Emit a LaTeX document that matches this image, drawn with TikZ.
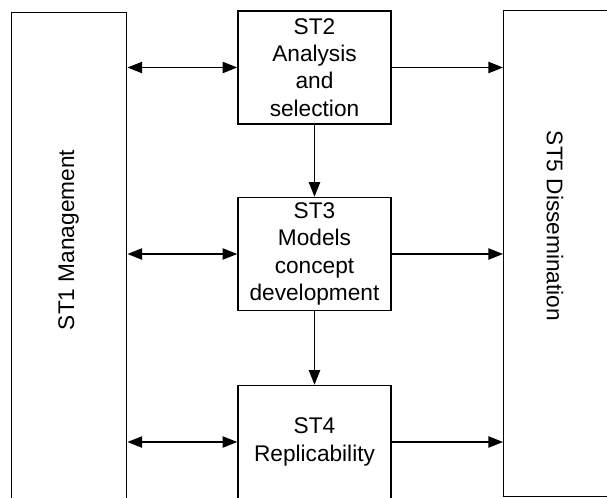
\documentclass[tikz,border=0pt]{standalone}
\usepackage{fontspec}
\setmainfont{Liberation Sans}
\usetikzlibrary{arrows.meta,calc,positioning}

\begin{document}
\begin{tikzpicture}[x=0.75pt,y=-0.75pt,
    task/.style={draw, line width=1.1pt, minimum width=114.75pt, minimum height=84.75pt,
                 inner sep=0pt, align=center, font=\fontsize{17}{20.5}\selectfont},
    side/.style={draw, line width=1.1pt, inner sep=0pt, anchor=north west},
    sidelabel/.style={font=\fontsize{17}{20.5}\selectfont},
    link/.style={line width=1pt, -{Triangle[length=11pt,width=8.5pt]}},
    both/.style={line width=1pt, {Triangle[length=11pt,width=8.5pt]}-{Triangle[length=11pt,width=8.5pt]}}]

\useasboundingbox (0,0) rectangle (607,497);
\clip (0,0) rectangle (607,497);

% the two long boxes at the sides
\node[side, minimum width=86.25pt, minimum height=388.5pt] (st1) at (11,12) {};
\node[side, minimum width=97.5pt, minimum height=364.5pt] (st5) at (503,10) {};
\node[sidelabel, rotate=90] (st1label) at (68.5,240) {ST1 Management};
\node[sidelabel, rotate=-90] (st5label) at (555,226) {ST5 Dissemination};

% the tasks in the middle
\node[task] (st2) at (314.5,67.5) {ST2\\Analysis\\and\\selection};
\node[task] (st3) at (314.5,254) {ST3\\Models\\concept\\development};
\node[task] (st4) at (314.5,442) {ST4\\Replicability};

\draw[both] (st1.east |- st2.west) -- (st2.west);
\draw[both] (st1.east |- st3.west) -- (st3.west);
\draw[both] (st1.east |- st4.west) -- (st4.west);

\draw[link] (st2.east) -- (st5.west |- st2.east);
\draw[link] (st3.east) -- (st5.west |- st3.east);
\draw[link] (st4.east) -- (st5.west |- st4.east);

\draw[link] (st2.south) -- (st3.north);
\draw[link] (st3.south) -- (st4.north);
\end{tikzpicture}
\end{document}
